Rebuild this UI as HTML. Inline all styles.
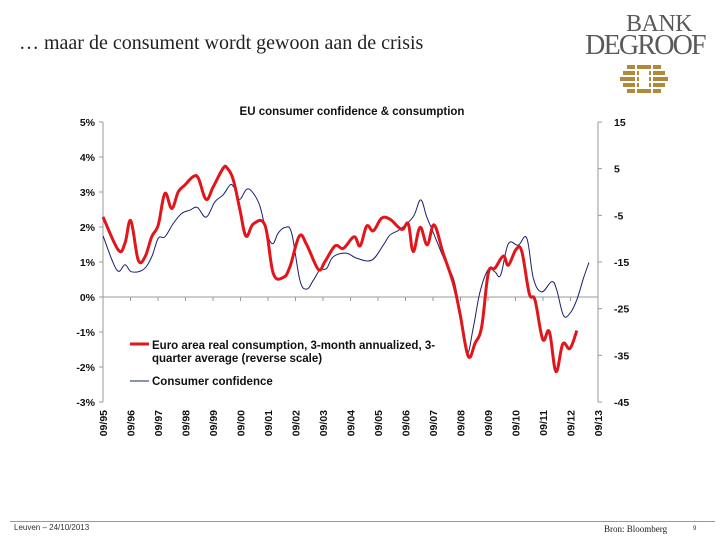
<!DOCTYPE html>
<html><head><meta charset="utf-8"><style>
body{margin:0;width:720px;height:540px;background:#fff;position:relative;overflow:hidden;font-family:"Liberation Sans",sans-serif}
.t{position:absolute}
</style></head><body>
<div class="t" style="left:19px;top:32px;font-family:'Liberation Serif',serif;font-size:20px;color:#222">… maar de consument wordt gewoon aan de crisis</div>
<div class="t" style="left:584px;top:14px;width:122px;text-align:center;font-family:'Liberation Serif',serif;color:#5a5a5a;line-height:20px">
<div style="font-size:24px;letter-spacing:-0.5px;padding-left:28px">BANK</div><div style="font-size:28px;letter-spacing:-1.8px;margin-top:2px">DEGROOF</div>
<svg width="54" height="32" viewBox="0 0 54 32" style="margin-top:7px;margin-left:-2px"><g fill="#b08a3a"><rect x="10" y="2" width="34" height="4"/><rect x="6" y="8" width="42" height="4"/><rect x="3" y="14" width="48" height="4"/><rect x="6" y="20" width="42" height="4"/><rect x="10" y="26" width="34" height="4"/></g><g fill="#fff"><rect x="18" y="0" width="2" height="32"/><rect x="34" y="0" width="2" height="32"/><rect x="22" y="8" width="10" height="16"/></g></svg></div>
<svg id="chart" width="720" height="540" style="position:absolute;left:0;top:0"></svg>
<div class="t" style="left:10px;top:521px;width:705px;height:1px;background:#999"></div>
<div class="t" style="left:14px;top:523px;font-size:8px;color:#333">Leuven – 24/10/2013</div>
<div class="t" style="left:604px;top:524px;font-family:'Liberation Serif',serif;font-size:9px;color:#222">Bron: Bloomberg</div>
<div class="t" style="left:693px;top:526px;font-size:6px;color:#333">9</div>
<script>
const xLabels=["09/95","09/96","09/97","09/98","09/99","09/00","09/01","09/02","09/03","09/04","09/05","09/06","09/07","09/08","09/09","09/10","09/11","09/12","09/13"];
const leftTicks=["5%","4%","3%","2%","1%","0%","-1%","-2%","-3%"];
const leftVals=[5,4,3,2,1,0,-1,-2,-3];
const rightTicks=["15","5","-5","-15","-25","-35","-45"];
const rightVals=[15,5,-5,-15,-25,-35,-45];
const consT=[0,0.56,0.8,1.01,1.28,1.53,1.77,2.01,2.25,2.5,2.74,2.98,3.28,3.47,3.75,4.01,4.37,4.52,4.74,4.98,5.2,5.47,5.89,6.19,6.56,6.8,7.14,7.41,7.83,8.07,8.44,8.74,9.13,9.35,9.59,9.83,10.13,10.44,10.86,11.1,11.28,11.53,11.79,12.04,12.37,12.74,12.98,13.28,13.53,13.77,14.01,14.25,14.56,14.74,15.02,15.23,15.5,15.71,15.99,16.23,16.47,16.72,16.98,17.23];
const consV=[2.29,1.34,1.54,2.18,1.06,1.15,1.72,2.06,2.96,2.53,3.01,3.2,3.44,3.39,2.79,3.15,3.68,3.68,3.34,2.49,1.74,2.09,2.05,0.68,0.56,0.87,1.74,1.49,0.79,1.01,1.46,1.39,1.72,1.46,2.03,1.89,2.25,2.22,1.93,2.09,1.3,1.99,1.49,2.06,1.25,0.39,-0.47,-1.69,-1.32,-0.85,0.68,0.82,1.17,0.91,1.36,1.3,0.1,-0.09,-1.21,-0.99,-2.13,-1.34,-1.47,-0.96];
const confT=[0,0.5,0.8,1.04,1.47,1.77,2.01,2.25,2.56,2.86,3.16,3.43,3.75,4.07,4.37,4.62,4.76,4.96,5.23,5.47,5.71,5.95,6.17,6.37,6.62,6.86,7.16,7.41,7.65,7.89,8.13,8.37,8.84,9.23,9.77,10.19,10.44,10.8,11.28,11.55,11.77,12.01,12.37,12.76,12.98,13.23,13.47,13.71,14.01,14.25,14.46,14.74,15.1,15.41,15.65,15.95,16.32,16.5,16.74,16.98,17.23,17.47,17.67];
const confV=[-9.4,-16.7,-15.6,-17.1,-16.6,-13.9,-9.9,-9.6,-6.7,-4.6,-3.9,-3.3,-5.4,-2.1,-0.6,1.5,1,-1.6,0.6,-0.3,-3.1,-8.8,-11.1,-8.8,-7.6,-8.8,-18.9,-20.8,-18.9,-16.7,-16.4,-13.9,-13.1,-14.2,-14.6,-11.4,-9.2,-8,-5.3,-1.7,-5.3,-8.7,-13.9,-18.9,-26,-34.6,-28.9,-21.4,-16.6,-17.1,-17.8,-11.1,-11.4,-9.9,-18.5,-21.4,-19.2,-21,-26.4,-26,-23.1,-18.5,-15.1];
const NS="http://www.w3.org/2000/svg";
const svg=document.getElementById('chart');
const X0=103,X1=598,YT=122,YB=402;
const xs=t=>X0+t*(X1-X0)/18;
const yl=v=>YT+(5-v)*(YB-YT)/8;
const yr=v=>YT+(15-v)*(YB-YT)/60;
function mk(tag,attrs,txt){const e=document.createElementNS(NS,tag);for(const k in attrs)e.setAttribute(k,attrs[k]);if(txt!==undefined)e.textContent=txt;svg.appendChild(e);return e;}
function smooth(p){let d='M'+p[0][0]+','+p[0][1];for(let i=0;i<p.length-1;i++){const a=p[Math.max(0,i-1)],b=p[i],c=p[i+1],n=p[Math.min(p.length-1,i+2)];const k=0.18;d+=` C${b[0]+(c[0]-a[0])*k},${b[1]+(c[1]-a[1])*k} ${c[0]-(n[0]-b[0])*k},${c[1]-(n[1]-b[1])*k} ${c[0]},${c[1]}`;}return d;}
let e;
e=mk('text',{x:352,y:115,'text-anchor':'middle','font-size':11.5,'font-weight':'bold',fill:'#111'},'EU consumer confidence & consumption');


e=mk('line',{x1:X0,y1:YT,x2:X0,y2:YB,stroke:'#999'});


e=mk('line',{x1:X1,y1:YT,x2:X1,y2:YB,stroke:'#999'});


e=mk('line',{x1:X0,y1:yl(0),x2:X1,y2:yl(0),stroke:'#999'});


leftVals.forEach((v,i)=>{
 mk('line',{x1:X0-4,y1:yl(v),x2:X0,y2:yl(v),stroke:'#999'});
 e=mk('text',{x:X0-8,y:yl(v)+4,'text-anchor':'end','font-size':10.5,'font-weight':'bold',fill:'#111'},leftTicks[i]);
 
 
});
rightVals.forEach((v,i)=>{
 mk('line',{x1:X1,y1:yr(v),x2:X1+4,y2:yr(v),stroke:'#999'});
 e=mk('text',{x:X1+16,y:yr(v)+4,'font-size':10.5,'font-weight':'bold',fill:'#111'},rightTicks[i]);
 
 
});
xLabels.forEach((l,i)=>{
 const x=xs(i);
 mk('line',{x1:x,y1:yl(0),x2:x,y2:yl(0)+4,stroke:'#999'});
 e=mk('text',{x:0,y:0,'text-anchor':'end','font-size':10.5,'font-weight':'bold',fill:'#111',transform:`translate(${x+4},${YB+8}) rotate(-90)`},l);
 
 
});
e=mk('path',{d:smooth(confT.map((t,i)=>[xs(t),yr(confV[i])])),fill:'none',stroke:'#1a1f6e','stroke-width':1});


e=mk('path',{d:smooth(consT.map((t,i)=>[xs(t),yl(consV[i])])),fill:'none',stroke:'#e0161b','stroke-width':3,'stroke-linejoin':'round'});


e=mk('line',{x1:130,y1:344,x2:149,y2:344,stroke:'#e0161b','stroke-width':3});


e=mk('text',{x:152,y:349,'font-size':11.5,'font-weight':'bold',fill:'#111'},'Euro area real consumption, 3-month annualized, 3-');


e=mk('text',{x:152,y:362,'font-size':11.5,'font-weight':'bold',fill:'#111'},'quarter average (reverse scale)');


e=mk('line',{x1:130,y1:381,x2:149,y2:381,stroke:'#1a1f6e','stroke-width':1});


e=mk('text',{x:152,y:385,'font-size':11.5,'font-weight':'bold',fill:'#111'},'Consumer confidence');


</script>
</body></html>
